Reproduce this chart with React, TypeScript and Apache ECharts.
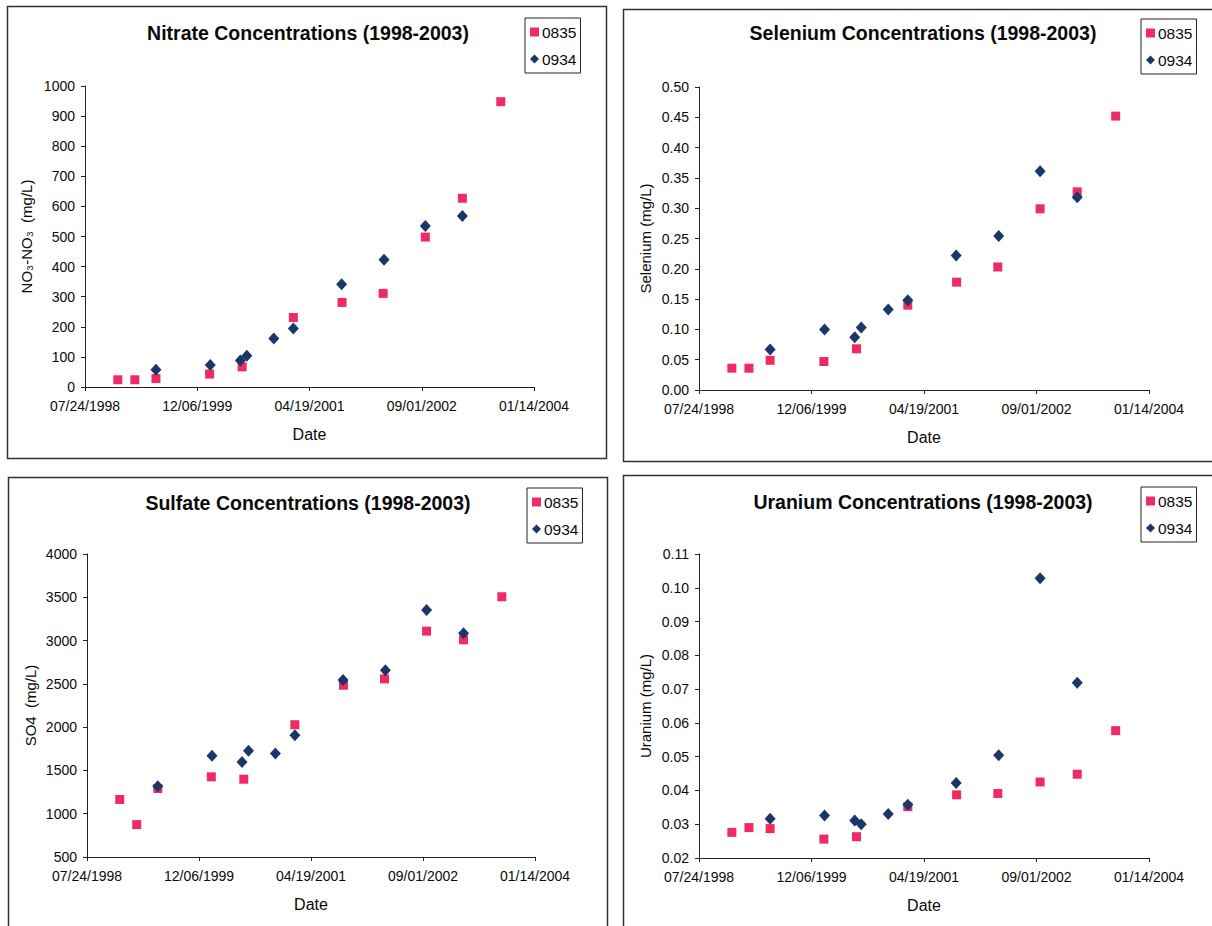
import React, { useEffect, useRef } from "react";
import * as echarts from "echarts";

// Sampling dates (shared by all four analytes)
const dates0835 = ["1998-12-17", "1999-03-03", "1999-06-05", "2000-01-30", "2000-06-23", "2001-02-06", "2001-09-11", "2002-03-13", "2002-09-17", "2003-03-01", "2003-08-19"];
const dates0934 = ["1999-06-05", "2000-02-02", "2000-06-15", "2000-07-14", "2000-11-11", "2001-02-06", "2001-09-09", "2002-03-17", "2002-09-17", "2003-03-01"];

const nitrate0835 = [24, 24, 28, 43, 67, 231, 281, 311, 498, 627, 948];
const nitrate0934 = [57, 73, 88, 104, 161, 194, 341, 423, 535, 568];
const selenium0835 = [0.036, 0.036, 0.049, 0.047, 0.068, 0.14, 0.178, 0.203, 0.299, 0.327, 0.452];
const selenium0934 = [0.067, 0.1, 0.087, 0.103, 0.133, 0.148, 0.222, 0.254, 0.361, 0.318];
const sulfate0835 = [1164, 874, 1291, 1426, 1399, 2028, 2484, 2557, 3109, 3009, 3506];
const sulfate0934 = [1318, 1669, 1596, 1727, 1696, 1905, 2545, 2657, 3352, 3086];
const uranium0835 = [0.0276, 0.029, 0.0287, 0.0256, 0.0263, 0.0352, 0.0387, 0.0391, 0.0425, 0.0448, 0.0577];
const uranium0934 = [0.0316, 0.0326, 0.0311, 0.03, 0.033, 0.0358, 0.0422, 0.0504, 0.1028, 0.0719];

const seriesNames = ["0835", "0934"];
const titles = [
  "Nitrate Concentrations (1998-2003)",
  "Selenium Concentrations (1998-2003)",
  "Sulfate Concentrations (1998-2003)",
  "Uranium Concentrations (1998-2003)",
];
const yNames = ["NO\u2083-NO\u2083  (mg/L)", "Selenium (mg/L)", "SO4  (mg/L)", "Uranium (mg/L)"];
const xName = "Date";

// x axis: days since 07/24/1998, ticks every 500 days
const BASE_DATE = "1998-07-24";
const X_MIN = 0;
const X_MAX = 2000;
const X_STEP = 500;

const FONT = "'Liberation Sans', Arial, Helvetica, sans-serif";
const PINK = "#f02a62";
const NAVY = "#1b3768";
const TEXT = "#0a0a0a";
const DAY = 86400000;

function utc(s: string) {
  const [y, m, d] = s.split("-").map(Number);
  return Date.UTC(y, m - 1, d);
}
const baseMs = utc(BASE_DATE);
const toDays = (s: string) => (utc(s) - baseMs) / DAY;
const pad = (n: number) => (n < 10 ? "0" + n : "" + n);
function fmtDate(v: number) {
  const dt = new Date(baseMs + v * DAY);
  return pad(dt.getUTCMonth() + 1) + "/" + pad(dt.getUTCDate()) + "/" + dt.getUTCFullYear();
}

const panels = [
  { grid: { left: 85, top: 86, width: 449, height: 301 }, y: [0, 1000, 100], dec: 0, d: [nitrate0835, nitrate0934], title: [308, 23], legend: [525, 18], yGap: 51, frame: [7.5, 6.5, 599, 452] },
  { grid: { left: 699, top: 87, width: 450, height: 303 }, y: [0, 0.5, 0.05], dec: 2, d: [selenium0835, selenium0934], title: [923, 23], legend: [1141, 19], yGap: 46, frame: [623.5, 9.5, 600, 452] },
  { grid: { left: 87, top: 554, width: 448, height: 303 }, y: [500, 4000, 500], dec: 0, d: [sulfate0835, sulfate0934], title: [308, 493], legend: [527, 488], yGap: 49, frame: [8.5, 477.5, 599, 460] },
  { grid: { left: 699, top: 554, width: 450, height: 304 }, y: [0.02, 0.11, 0.01], dec: 2, d: [uranium0835, uranium0934], title: [923, 492], legend: [1141, 487], yGap: 46, frame: [623.5, 475.5, 600, 460] },
];

export default function App() {
  const ref = useRef<HTMLDivElement>(null);
  useEffect(() => {
    if (!ref.current) return;
    const chart = echarts.init(ref.current, null, { renderer: "svg" });
    const axisLine = { show: true, lineStyle: { color: "#222", width: 1 } };
    const axisTick = { show: true, inside: false, length: 4, lineStyle: { color: "#222" } };
    const option: any = {
      animation: false,
      backgroundColor: "#fff",
      title: panels.map((p, i) => ({
        text: titles[i],
        left: p.title[0],
        top: p.title[1],
        textAlign: "center",
        padding: 0,
        textStyle: { fontFamily: FONT, fontSize: 19.5, fontWeight: "bold", color: TEXT },
      })),
      legend: panels.map((p) => ({
        left: p.legend[0],
        top: p.legend[1],
        orient: "vertical",
        selectedMode: false,
        backgroundColor: "#fff",
        borderColor: "#222",
        borderWidth: 1,
        padding: [6, 4, 6, 5],
        itemGap: 11,
        itemWidth: 9,
        itemHeight: 9,
        textStyle: { fontFamily: FONT, fontSize: 15.5, color: TEXT, padding: [0, 0, 0, -2] },
        data: [
          { name: seriesNames[0], icon: "rect", itemStyle: { opacity: 1 } },
          { name: seriesNames[1], icon: "diamond", itemStyle: { opacity: 1 } },
        ],
      })),
      grid: panels.map((p) => ({ ...p.grid, containLabel: false, outerBoundsMode: "none" })),
      xAxis: panels.map((p, i) => ({
        type: "value",
        gridIndex: i,
        min: X_MIN,
        max: X_MAX,
        interval: X_STEP,
        name: xName,
        nameLocation: "middle",
        nameGap: 39,
        nameTextStyle: { fontFamily: FONT, fontSize: 16, color: TEXT },
        axisLine,
        axisTick,
        splitLine: { show: false },
        axisLabel: { formatter: (v: number) => fmtDate(v), fontFamily: FONT, fontSize: 14, color: TEXT, margin: 12, showMinLabel: true, showMaxLabel: true },
      })),
      yAxis: panels.map((p, i) => ({
        type: "value",
        gridIndex: i,
        min: p.y[0],
        max: p.y[1],
        interval: p.y[2],
        name: yNames[i],
        nameLocation: "middle",
        nameGap: p.yGap,
        nameTextStyle: { fontFamily: FONT, fontSize: 15, color: TEXT },
        axisLine,
        axisTick,
        splitLine: { show: false },
        axisLabel: { formatter: (v: number) => v.toFixed(p.dec), fontFamily: FONT, fontSize: 14, color: TEXT, margin: 10 },
      })),
      series: panels.flatMap((p, i) => [
        {
          type: "scatter",
          name: seriesNames[0],
          xAxisIndex: i,
          yAxisIndex: i,
          symbol: "rect",
          symbolSize: 9,
          itemStyle: { color: PINK, opacity: 1 },
          data: dates0835.map((d, k) => [toDays(d), p.d[0][k]]),
        },
        {
          type: "scatter",
          name: seriesNames[1],
          xAxisIndex: i,
          yAxisIndex: i,
          symbol: "diamond",
          symbolSize: [11, 12],
          itemStyle: { color: NAVY, opacity: 1 },
          data: dates0934.map((d, k) => [toDays(d), p.d[1][k]]),
        },
      ]),
      graphic: panels.map((p) => ({
        type: "rect",
        silent: true,
        z: -1,
        shape: { x: p.frame[0], y: p.frame[1], width: p.frame[2], height: p.frame[3] },
        style: { fill: "none", stroke: "#333", lineWidth: 1.5 },
      })),
    };
    chart.setOption(option);
    return () => chart.dispose();
  }, []);
  return (
    <div
      ref={ref}
      style={{ position: "absolute", left: 0, top: 0, width: 1212, height: 926, background: "#fff" }}
    />
  );
}
